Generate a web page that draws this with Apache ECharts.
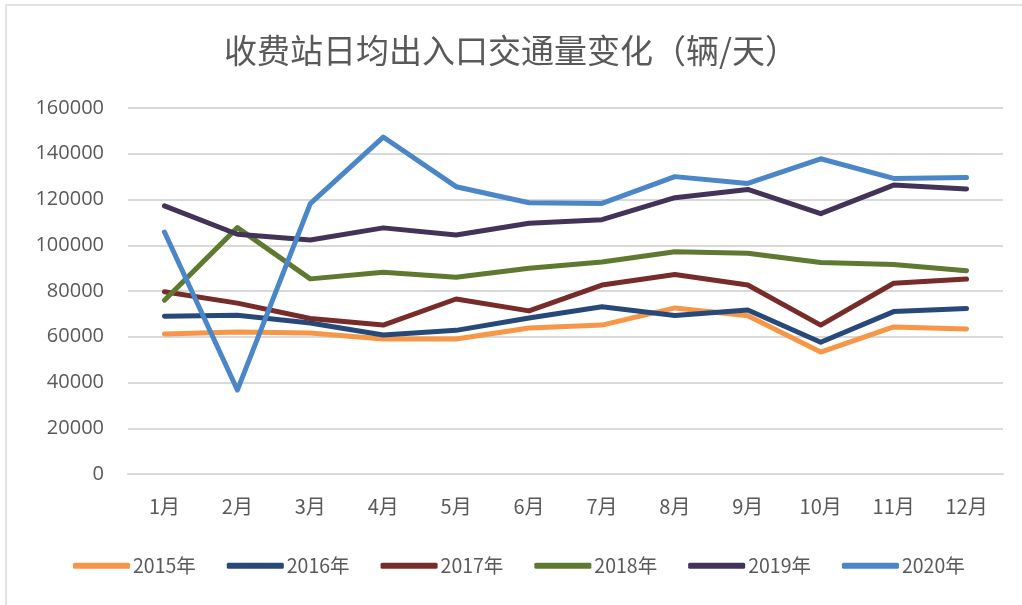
<!DOCTYPE html>
<html>
<head>
<meta charset="utf-8">
<script src="https://cdn.jsdelivr.net/npm/echarts@6/dist/echarts.min.js"></script>
<style>
html,body{margin:0;padding:0;background:#fff;}
#frame{position:absolute;left:5px;top:4px;width:1017px;height:601px;border-top:2px solid #e3e3e3;border-left:2px solid #e3e3e3;box-sizing:border-box;}
#chart{position:absolute;left:0;top:0;width:1022px;height:605px;}
</style>
</head>
<body>
<div id="frame"></div>
<div id="chart"></div>
<script>
const months = ['1月','2月','3月','4月','5月','6月','7月','8月','9月','10月','11月','12月'];
const seriesNames = ['2015年','2016年','2017年','2018年','2019年','2020年'];
const seriesColors = ['#F79646','#27497A','#772C2A','#5F7A30','#433358','#4A86C8'];
const y2015 = [61200, 62100, 61600, 59000, 59000, 63800, 65100, 72600, 69200, 53300, 64300, 63400];
const y2016 = [69000, 69400, 66000, 60800, 62800, 68200, 73100, 69300, 71700, 57600, 71000, 72400];
const y2017 = [79700, 74700, 68000, 65100, 76500, 71300, 82600, 87200, 82600, 65100, 83400, 85200];
const y2018 = [76000, 107700, 85300, 88200, 86000, 89900, 92700, 97200, 96500, 92500, 91600, 88900];
const y2019 = [117200, 104800, 102300, 107600, 104500, 109600, 111200, 120800, 124400, 113800, 126300, 124600];
const y2020 = [105800, 36700, 118200, 147300, 125600, 118600, 118300, 130000, 127000, 137800, 129200, 129600];
const yTicks = {min: 0, max: 160000, interval: 20000};

const allData = [y2015, y2016, y2017, y2018, y2019, y2020];
const chart = echarts.init(document.getElementById('chart'));
chart.setOption({
  backgroundColor: 'transparent',
  animation: false,
  title: {
    text: '收费站日均出入口交通量变化（辆/天）',
    left: 'center',
    top: 29,
    textStyle: {fontFamily: 'Noto Sans CJK SC', fontSize: 33, fontWeight: 'normal', color: '#595959'}
  },
  legend: {
    data: seriesNames,
    left: 73,
    top: 556,
    padding: 0,
    itemWidth: 57,
    itemHeight: 6,
    itemGap: 31,
    icon: 'roundRect',
    textStyle: {fontFamily: 'Noto Sans CJK SC', fontSize: 19.5, color: '#595959', padding: [0,0,0,-2]}
  },
  grid: {left: 128, right: 19, top: 108, bottom: 131, containLabel: false},
  xAxis: {
    type: 'category',
    data: months,
    boundaryGap: true,
    axisLine: {show: true, lineStyle: {color: '#D9D9D9', width: 2}},
    axisTick: {show: false},
    axisLabel: {margin: 22, fontFamily: 'Noto Sans CJK SC', fontSize: 20, color: '#595959'}
  },
  yAxis: {
    type: 'value',
    min: yTicks.min, max: yTicks.max, interval: yTicks.interval,
    axisLine: {show: false},
    axisTick: {show: false},
    splitLine: {lineStyle: {color: '#D9D9D9', width: 2}},
    axisLabel: {margin: 24, fontFamily: 'Open Sans', fontSize: 20, color: '#595959', formatter: v => String(v)}
  },
  series: seriesNames.map((n, i) => ({
    name: n,
    type: 'line',
    data: allData[i],
    showSymbol: false,
    symbol: 'none',
    lineStyle: {width: 5, color: seriesColors[i], cap: 'round', join: 'round'},
    itemStyle: {color: seriesColors[i]}
  }))
});
</script>
</body>
</html>
